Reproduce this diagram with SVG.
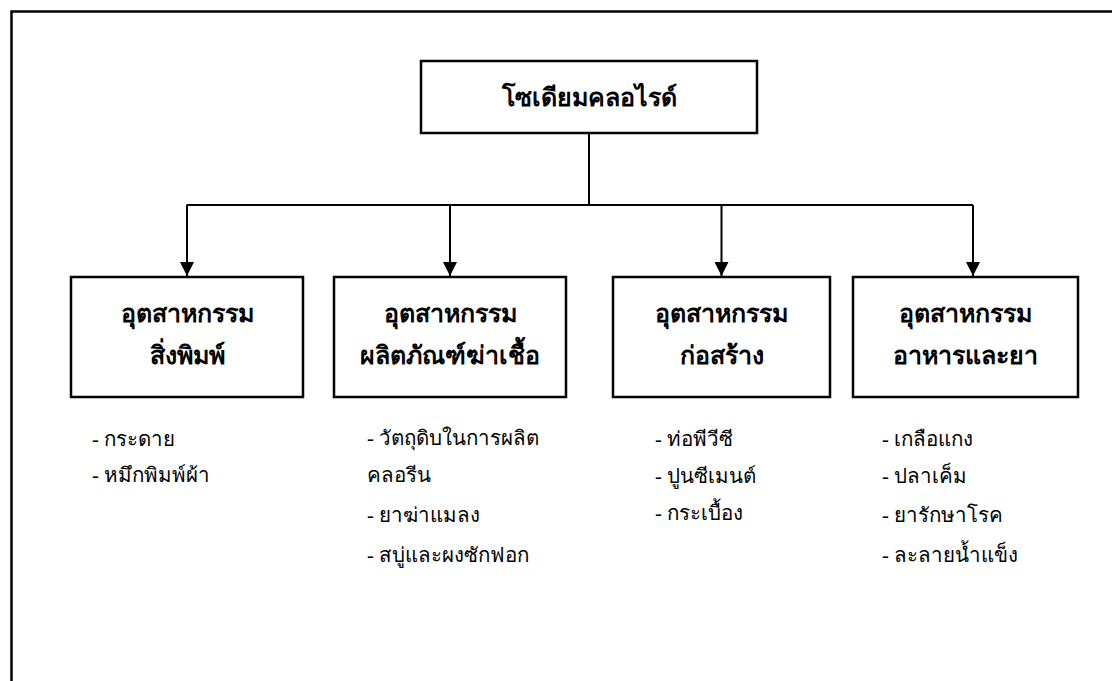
<svg xmlns="http://www.w3.org/2000/svg" width="1112" height="681" viewBox="0 0 1112 681">
<style>
.box{fill:#fff;stroke:#000;stroke-width:2.5}
.frame{fill:none;stroke:#000;stroke-width:2.5}
.ln{fill:none;stroke:#000;stroke-width:2}
.h{font-family:"Liberation Serif","Noto Sans",serif;font-weight:bold;font-size:25px;text-anchor:middle;fill:#000}
.t{font-family:"Liberation Serif","Noto Sans",serif;font-size:20.5px;fill:#000}
</style>
<defs>
<marker id="arr" viewBox="0 0 14 14" refX="14" refY="7" markerWidth="14" markerHeight="14" markerUnits="userSpaceOnUse" orient="auto">
<path d="M0,0 L14,7 L0,14 Z" fill="#000"/>
</marker>
</defs>
<rect width="1112" height="681" fill="#fff"/>
<rect class="frame" x="11.5" y="11.5" width="1200" height="800"/>
<g id="connectors">
<line class="ln" x1="589" y1="133" x2="589" y2="205"/>
<line class="ln" x1="186.5" y1="205" x2="973" y2="205"/>
<line class="ln" x1="187" y1="205" x2="187" y2="276" marker-end="url(#arr)"/>
<line class="ln" x1="450" y1="205" x2="450" y2="276" marker-end="url(#arr)"/>
<line class="ln" x1="721.5" y1="205" x2="721.5" y2="276" marker-end="url(#arr)"/>
<line class="ln" x1="973" y1="205" x2="973" y2="276" marker-end="url(#arr)"/>
</g>
<g id="root">
<rect class="box" x="421" y="61" width="336" height="72"/>
<text class="h" x="589" y="106" font-size="25.5">โซเดียมคลอไรด์</text>
</g>
<g id="n1">
<rect class="box" x="71" y="277" width="232" height="120"/>
<text class="h" x="187" y="322">อุตสาหกรรม</text>
<text class="h" x="187" y="364">สิ่งพิมพ์</text>
<text class="t" x="92" y="446">- กระดาย</text>
<text class="t" x="92" y="482">- หมึกพิมพ์ผ้า</text>
</g>
<g id="n2">
<rect class="box" x="334" y="277" width="232" height="120"/>
<text class="h" x="450" y="322">อุตสาหกรรม</text>
<text class="h" x="450" y="364" font-size="23.5">ผลิตภัณฑ์ฆ่าเชื้อ</text>
<text class="t" x="367" y="445">- วัตถุดิบในการผลิต</text>
<text class="t" x="367" y="482">คลอรีน</text>
<text class="t" x="367" y="522">- ยาฆ่าแมลง</text>
<text class="t" x="367" y="562">- สบู่และผงซักฟอก</text>
</g>
<g id="n3">
<rect class="box" x="613" y="277" width="217" height="120"/>
<text class="h" x="721.5" y="322">อุตสาหกรรม</text>
<text class="h" x="721.5" y="364">ก่อสร้าง</text>
<text class="t" x="655" y="446">- ท่อพีวีซี</text>
<text class="t" x="655" y="483">- ปูนซีเมนต์</text>
<text class="t" x="655" y="520">- กระเบื้อง</text>
</g>
<g id="n4">
<rect class="box" x="853" y="277" width="225" height="120"/>
<text class="h" x="965.5" y="322">อุตสาหกรรม</text>
<text class="h" x="965.5" y="364">อาหารและยา</text>
<text class="t" x="882" y="446">- เกลือแกง</text>
<text class="t" x="882" y="483">- ปลาเค็ม</text>
<text class="t" x="882" y="522">- ยารักษาโรค</text>
<text class="t" x="882" y="562">- ละลายน้ำแข็ง</text>
</g>
</svg>
